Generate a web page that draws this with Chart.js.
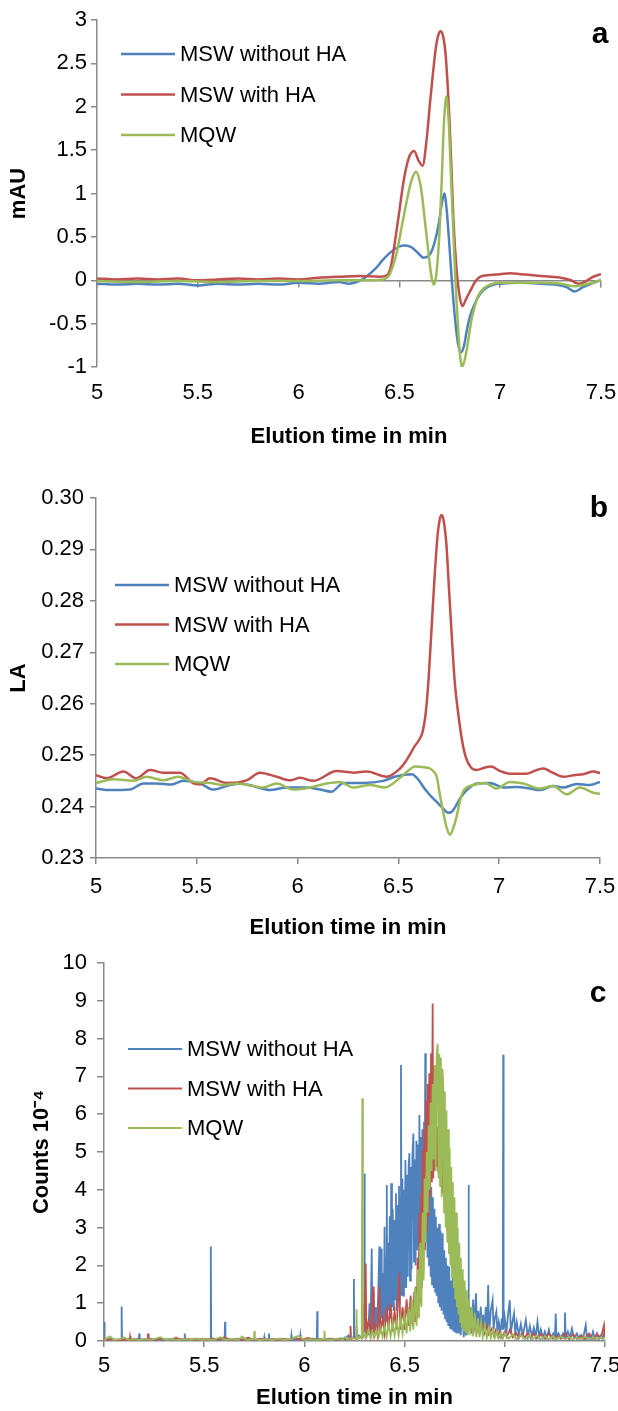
<!DOCTYPE html>
<html><head><meta charset="utf-8">
<script src="https://cdn.jsdelivr.net/npm/chart.js@4.4.0/dist/chart.umd.min.js"></script>
<style>
html,body{margin:0;padding:0;background:#fff;}
#wrap{position:relative;width:618px;height:1411px;overflow:hidden;}
.panel{position:absolute;left:0;width:618px;}
</style></head><body>
<div id="wrap">
<div class="panel" style="top:0;height:460px"><canvas id="ca"></canvas></div>
<div class="panel" style="top:470px;height:480px"><canvas id="cb"></canvas></div>
<div class="panel" style="top:950px;height:461px"><canvas id="cc"></canvas></div>
</div>
<script>
// ---------- data ----------
const seriesNames = ['MSW without HA', 'MSW with HA', 'MQW'];
const xTicks = [5, 5.5, 6, 6.5, 7, 7.5];
const xTickLabels = ['5', '5.5', '6', '6.5', '7', '7.5'];
const xTitle = 'Elution time in min';
const yTitleA = 'mAU';
const yTitleB = 'LA';
const yTitleC = 'Counts 10\u207B\u2074';

// Panel a: [time, mAU]
const aBlue = [[5.00,-0.04],[5.10,-0.05],[5.20,-0.04],[5.30,-0.05],[5.40,-0.04],[5.50,-0.06],[5.60,-0.04],[5.70,-0.05],[5.80,-0.04],[5.90,-0.05],[6.00,-0.03],[6.10,-0.04],[6.20,-0.02],[6.25,-0.04],[6.30,-0.01],[6.34,0.05],[6.38,0.13],[6.42,0.24],[6.46,0.33],[6.50,0.39],[6.53,0.40],[6.56,0.38],[6.59,0.32],[6.62,0.26],[6.645,0.28],[6.67,0.40],[6.695,0.65],[6.71,0.88],[6.723,1.00],[6.735,0.80],[6.745,0.50],[6.76,0.00],[6.775,-0.42],[6.79,-0.72],[6.806,-0.83],[6.82,-0.76],[6.835,-0.57],[6.85,-0.42],[6.87,-0.29],[6.90,-0.16],[6.93,-0.09],[6.97,-0.05],[7.00,-0.04],[7.10,-0.03],[7.20,-0.04],[7.30,-0.06],[7.33,-0.08],[7.37,-0.13],[7.41,-0.08],[7.45,-0.04],[7.50,0.00]];
const aRed = [[5.00,0.02],[5.10,0.01],[5.20,0.02],[5.30,0.01],[5.40,0.02],[5.50,0.00],[5.60,0.01],[5.70,0.02],[5.80,0.01],[5.90,0.02],[6.00,0.01],[6.10,0.03],[6.20,0.04],[6.30,0.05],[6.40,0.04],[6.44,0.06],[6.46,0.18],[6.48,0.48],[6.50,0.80],[6.52,1.13],[6.545,1.40],[6.573,1.49],[6.595,1.38],[6.615,1.32],[6.635,1.62],[6.652,2.05],[6.668,2.42],[6.682,2.70],[6.695,2.84],[6.705,2.87],[6.718,2.80],[6.731,2.55],[6.748,1.86],[6.758,1.30],[6.768,0.70],[6.778,0.30],[6.788,0.01],[6.80,-0.20],[6.812,-0.30],[6.83,-0.22],[6.85,-0.13],[6.875,-0.02],[6.90,0.04],[6.95,0.06],[7.00,0.07],[7.05,0.08],[7.10,0.07],[7.15,0.06],[7.20,0.05],[7.25,0.04],[7.30,0.03],[7.35,0.00],[7.39,-0.04],[7.42,-0.02],[7.46,0.04],[7.50,0.07]];
const aGreen = [[5.00,-0.01],[5.20,-0.02],[5.40,-0.01],[5.60,-0.02],[5.80,-0.01],[6.00,-0.01],[6.20,0.00],[6.35,0.00],[6.42,0.01],[6.45,0.06],[6.47,0.18],[6.487,0.32],[6.51,0.60],[6.537,0.92],[6.56,1.15],[6.583,1.25],[6.60,1.15],[6.61,1.02],[6.622,0.78],[6.635,0.51],[6.65,0.20],[6.662,0.00],[6.672,-0.05],[6.682,0.05],[6.692,0.30],[6.702,0.70],[6.71,1.15],[6.718,1.67],[6.726,2.00],[6.733,2.12],[6.74,2.00],[6.748,1.67],[6.756,1.20],[6.765,0.70],[6.773,0.25],[6.781,-0.14],[6.79,-0.50],[6.797,-0.76],[6.805,-0.95],[6.81,-1.00],[6.82,-0.95],[6.834,-0.80],[6.846,-0.62],[6.858,-0.45],[6.875,-0.29],[6.891,-0.18],[6.92,-0.09],[6.95,-0.05],[7.00,-0.03],[7.20,-0.03],[7.30,-0.04],[7.37,-0.07],[7.42,-0.05],[7.50,0.00]];

// Panel b: [time, LA]
const bBlue = [[5.0,0.2435],[5.069,0.2432],[5.169,0.2433],[5.235,0.2445],[5.30,0.2445],[5.375,0.2443],[5.433,0.2450],[5.516,0.2445],[5.582,0.2433],[5.648,0.2440],[5.714,0.2445],[5.78,0.2440],[5.863,0.2432],[5.946,0.2437],[6.045,0.2437],[6.111,0.2433],[6.169,0.2429],[6.227,0.2446],[6.326,0.2446],[6.425,0.2450],[6.491,0.2459],[6.566,0.2463],[6.60,0.2452],[6.624,0.2438],[6.657,0.2422],[6.69,0.2409],[6.72,0.2397],[6.748,0.2388],[6.765,0.2390],[6.78,0.2398],[6.81,0.2418],[6.839,0.2432],[6.888,0.2445],[6.954,0.2446],[7.02,0.2437],[7.087,0.2438],[7.153,0.2435],[7.202,0.2432],[7.268,0.2440],[7.318,0.2437],[7.384,0.2444],[7.45,0.2442],[7.5,0.2448]];
const bRed = [[5.0,0.2461],[5.053,0.2455],[5.136,0.2468],[5.20,0.2455],[5.268,0.2471],[5.334,0.2466],[5.417,0.2466],[5.483,0.2445],[5.516,0.2443],[5.565,0.2455],[5.648,0.2446],[5.747,0.2451],[5.813,0.2466],[5.896,0.2458],[5.962,0.2451],[6.012,0.2456],[6.078,0.2450],[6.194,0.2469],[6.276,0.2466],[6.343,0.2468],[6.442,0.2458],[6.508,0.2474],[6.535,0.2487],[6.56,0.2503],[6.58,0.2517],[6.60,0.2528],[6.62,0.2545],[6.635,0.2580],[6.65,0.2650],[6.665,0.2750],[6.68,0.2850],[6.695,0.2930],[6.708,0.2963],[6.715,0.2967],[6.725,0.2955],[6.738,0.2910],[6.75,0.2830],[6.765,0.2730],[6.78,0.2640],[6.797,0.2580],[6.815,0.2530],[6.835,0.2495],[6.86,0.2476],[6.888,0.2471],[6.93,0.2476],[6.96,0.2478],[7.0,0.2470],[7.053,0.2464],[7.136,0.2464],[7.186,0.2471],[7.22,0.2474],[7.26,0.2467],[7.318,0.2458],[7.37,0.2461],[7.417,0.2463],[7.467,0.2468],[7.5,0.2465]];
const bGreen = [[5.0,0.2446],[5.086,0.2453],[5.185,0.2450],[5.251,0.2458],[5.334,0.2451],[5.408,0.2458],[5.483,0.2448],[5.566,0.2446],[5.632,0.2442],[5.698,0.2445],[5.78,0.2440],[5.83,0.2437],[5.896,0.2445],[5.978,0.2433],[6.062,0.2437],[6.144,0.2445],[6.21,0.2448],[6.276,0.2437],[6.359,0.2442],[6.433,0.2437],[6.508,0.2456],[6.55,0.2470],[6.582,0.2478],[6.62,0.2477],[6.657,0.2474],[6.675,0.2468],[6.69,0.2458],[6.705,0.2425],[6.723,0.2387],[6.74,0.2358],[6.756,0.2345],[6.772,0.2358],[6.789,0.2381],[6.805,0.2410],[6.822,0.2430],[6.872,0.2442],[6.93,0.2446],[6.987,0.2435],[7.053,0.2448],[7.12,0.2445],[7.202,0.2435],[7.268,0.2440],[7.335,0.2424],[7.4,0.2437],[7.467,0.2427],[7.5,0.2425]];

// Panel c: [time, counts x10^-4]
const cBlue = [[5.000,0.50],[5.003,0.05],[5.02,0.03],[5.04,0.06],[5.06,0.03],[5.086,0.05],[5.088,0.91],[5.090,0.05],[5.11,0.04],[5.13,0.06],[5.15,0.03],[5.174,0.06],[5.176,0.20],[5.178,0.05],[5.20,0.04],[5.23,0.06],[5.26,0.03],[5.29,0.05],[5.32,0.04],[5.357,0.05],[5.359,0.11],[5.361,0.04],[5.38,0.05],[5.401,0.05],[5.403,0.20],[5.405,0.05],[5.43,0.03],[5.46,0.06],[5.49,0.04],[5.51,0.05],[5.531,0.05],[5.533,2.50],[5.535,0.05],[5.56,0.04],[5.58,0.06],[5.602,0.05],[5.604,0.51],[5.606,0.05],[5.63,0.04],[5.66,0.05],[5.69,0.03],[5.72,0.06],[5.75,0.04],[5.78,0.05],[5.798,0.05],[5.800,0.11],[5.802,0.04],[5.821,0.05],[5.823,0.20],[5.825,0.05],[5.85,0.04],[5.88,0.06],[5.91,0.04],[5.933,0.05],[5.935,0.15],[5.937,0.05],[5.96,0.04],[5.978,0.05],[5.980,0.15],[5.982,0.05],[6.01,0.04],[6.04,0.06],[6.062,0.05],[6.064,0.79],[6.066,0.05],[6.09,0.04],[6.12,0.06],[6.15,0.04],[6.18,0.07],[6.20,0.05],[6.22,0.15],[6.225,0.06],[6.245,0.10],[6.247,1.64],[6.249,0.10],[6.27,0.15],[6.285,0.08],[6.29,0.30],[6.298,0.20],[6.300,4.43],[6.302,0.30],[6.31,0.50],[6.318,0.15],[6.325,1.0],[6.33,0.2],[6.336,2.45],[6.339,0.3],[6.345,1.3],[6.35,0.4],[6.356,0.9],[6.362,0.2],[6.368,1.2],[6.374,2.50],[6.377,0.3],[6.383,2.45],[6.386,0.6],[6.392,1.8],[6.396,0.4],[6.40,3.02],[6.404,0.5],[6.408,2.2],[6.411,4.13],[6.414,0.5],[6.418,2.6],[6.422,0.8],[6.426,3.3],[6.43,0.6],[6.433,4.17],[6.437,0.9],[6.441,3.5],[6.445,0.8],[6.449,3.2],[6.453,1.1],[6.457,3.91],[6.46,0.8],[6.464,3.6],[6.468,1.1],[6.472,4.1],[6.476,1.0],[6.479,3.8],[6.482,7.30],[6.485,1.2],[6.489,4.3],[6.493,1.2],[6.497,4.0],[6.50,1.4],[6.504,4.79],[6.508,1.4],[6.512,4.4],[6.516,1.7],[6.52,4.6],[6.524,4.97],[6.527,1.6],[6.531,4.6],[6.535,1.9],[6.539,4.9],[6.544,5.49],[6.547,2.1],[6.551,4.8],[6.555,2.0],[6.559,5.3],[6.563,2.4],[6.567,5.2],[6.571,2.5],[6.574,5.98],[6.577,2.4],[6.581,5.4],[6.585,2.7],[6.589,5.6],[6.593,2.6],[6.597,5.8],[6.60,2.8],[6.603,7.61],[6.606,2.6],[6.61,5.6],[6.614,2.2],[6.618,5.0],[6.622,2.0],[6.626,4.5],[6.63,1.7],[6.633,4.08],[6.637,1.5],[6.641,3.8],[6.645,1.4],[6.649,3.5],[6.653,1.3],[6.656,3.29],[6.66,1.2],[6.664,3.0],[6.668,1.0],[6.672,3.1],[6.676,0.9],[6.68,2.9],[6.684,0.8],[6.69,2.85],[6.694,0.7],[6.698,2.4],[6.702,0.6],[6.706,2.2],[6.71,0.5],[6.714,2.0],[6.718,0.4],[6.723,1.97],[6.727,0.35],[6.731,1.6],[6.735,0.3],[6.74,1.7],[6.744,0.25],[6.748,1.4],[6.752,0.25],[6.756,1.35],[6.76,0.2],[6.765,1.1],[6.77,0.2],[6.775,0.9],[6.78,0.15],[6.785,0.7],[6.79,0.56],[6.795,0.1],[6.80,0.5],[6.806,0.15],[6.812,0.7],[6.817,0.3],[6.819,4.13],[6.821,0.3],[6.83,0.9],[6.836,0.2],[6.842,1.1],[6.848,0.3],[6.856,1.26],[6.862,0.3],[6.868,0.8],[6.874,0.2],[6.88,0.91],[6.886,0.3],[6.892,0.7],[6.898,0.2],[6.905,0.9],[6.912,0.3],[6.917,1.48],[6.922,0.2],[6.93,0.8],[6.939,1.08],[6.944,0.3],[6.95,0.6],[6.958,0.78],[6.963,0.2],[6.97,0.5],[6.978,0.2],[6.985,0.6],[6.990,0.3],[6.992,7.57],[6.994,0.3],[7.00,0.6],[7.008,0.2],[7.016,0.7],[7.025,1.08],[7.03,0.2],[7.038,0.5],[7.046,0.73],[7.052,0.2],[7.06,0.5],[7.07,0.15],[7.08,0.45],[7.09,0.15],[7.105,0.56],[7.115,0.1],[7.125,0.4],[7.135,0.12],[7.145,0.35],[7.155,0.1],[7.163,0.51],[7.172,0.1],[7.18,0.3],[7.19,0.08],[7.2,0.25],[7.21,0.08],[7.22,0.3],[7.23,0.08],[7.242,0.2],[7.25,0.08],[7.254,0.73],[7.258,0.1],[7.268,0.2],[7.28,0.08],[7.29,0.2],[7.296,0.1],[7.30,0.75],[7.304,0.1],[7.315,0.25],[7.325,0.08],[7.335,0.33],[7.345,0.08],[7.36,0.2],[7.37,0.06],[7.38,0.15],[7.39,0.06],[7.404,0.42],[7.41,0.06],[7.42,0.15],[7.43,0.05],[7.44,0.25],[7.45,0.05],[7.46,0.2],[7.47,0.05],[7.48,0.15],[7.49,0.06],[7.50,0.30]];
const cRed = [[5.00,0.10],[5.005,0.03],[5.03,0.05],[5.06,0.02],[5.09,0.04],[5.11,0.03],[5.128,0.03],[5.13,0.12],[5.133,0.03],[5.16,0.05],[5.19,0.03],[5.218,0.04],[5.22,0.20],[5.223,0.04],[5.25,0.03],[5.28,0.06],[5.31,0.03],[5.34,0.05],[5.36,0.08],[5.39,0.03],[5.42,0.05],[5.45,0.03],[5.48,0.05],[5.51,0.03],[5.54,0.07],[5.57,0.03],[5.60,0.10],[5.63,0.03],[5.66,0.05],[5.69,0.04],[5.72,0.09],[5.75,0.03],[5.78,0.06],[5.81,0.03],[5.84,0.05],[5.87,0.03],[5.90,0.05],[5.93,0.03],[5.95,0.09],[5.98,0.03],[6.02,0.08],[6.05,0.03],[6.08,0.05],[6.11,0.03],[6.14,0.06],[6.17,0.03],[6.20,0.05],[6.228,0.05],[6.23,0.40],[6.233,0.05],[6.25,0.08],[6.258,0.05],[6.26,0.38],[6.263,0.05],[6.28,0.10],[6.295,0.10],[6.298,1.0],[6.30,0.3],[6.306,2.05],[6.309,0.2],[6.32,0.5],[6.33,0.15],[6.343,1.44],[6.346,0.2],[6.355,0.4],[6.365,0.15],[6.375,1.44],[6.378,0.2],[6.39,0.6],[6.40,0.2],[6.41,0.9],[6.42,0.3],[6.43,1.0],[6.44,0.25],[6.45,0.8],[6.46,0.3],[6.474,1.79],[6.478,0.3],[6.49,0.9],[6.50,0.3],[6.51,1.1],[6.52,0.4],[6.53,1.2],[6.54,0.4],[6.548,1.3],[6.552,0.5],[6.557,1.44],[6.561,0.6],[6.565,2.2],[6.569,0.8],[6.574,3.38],[6.578,1.0],[6.582,3.9],[6.586,1.4],[6.59,5.05],[6.594,1.8],[6.598,5.6],[6.602,2.4],[6.607,6.37],[6.611,2.9],[6.615,6.8],[6.619,3.3],[6.623,7.08],[6.627,3.8],[6.632,7.61],[6.636,4.2],[6.640,8.93],[6.643,4.3],[6.647,7.26],[6.651,4.5],[6.655,6.2],[6.659,4.6],[6.663,5.67],[6.667,4.5],[6.671,5.4],[6.675,4.3],[6.679,5.32],[6.683,4.1],[6.687,5.0],[6.69,3.9],[6.694,4.79],[6.698,3.6],[6.702,4.4],[6.706,3.3],[6.71,3.8],[6.714,2.9],[6.718,3.55],[6.722,2.5],[6.726,3.1],[6.73,2.2],[6.734,2.67],[6.738,1.9],[6.742,2.4],[6.746,1.6],[6.75,2.14],[6.755,1.4],[6.76,1.9],[6.765,1.2],[6.77,1.7],[6.775,1.0],[6.781,1.35],[6.786,0.8],[6.791,1.52],[6.796,0.7],[6.801,1.0],[6.806,0.5],[6.812,0.82],[6.818,0.4],[6.825,0.7],[6.832,0.35],[6.839,0.56],[6.846,0.3],[6.853,0.5],[6.86,0.25],[6.868,0.45],[6.876,0.22],[6.889,0.42],[6.898,0.2],[6.91,0.38],[6.92,0.18],[6.935,0.33],[6.945,0.15],[6.955,0.29],[6.965,0.12],[6.975,0.25],[6.985,0.1],[7.0,0.25],[7.01,0.1],[7.025,0.3],[7.04,0.1],[7.055,0.22],[7.07,0.08],[7.085,0.2],[7.1,0.08],[7.115,0.22],[7.13,0.07],[7.145,0.2],[7.16,0.07],[7.18,0.18],[7.2,0.06],[7.22,0.2],[7.24,0.06],[7.26,0.15],[7.28,0.06],[7.30,0.2],[7.32,0.05],[7.34,0.18],[7.36,0.06],[7.38,0.15],[7.40,0.05],[7.42,0.2],[7.44,0.06],[7.46,0.18],[7.48,0.08],[7.495,0.42],[7.50,0.1]];
const cGreen = [[5.00,0.03],[5.03,0.12],[5.05,0.03],[5.08,0.05],[5.10,0.10],[5.12,0.03],[5.15,0.05],[5.18,0.03],[5.21,0.05],[5.24,0.03],[5.28,0.10],[5.31,0.03],[5.34,0.05],[5.37,0.03],[5.40,0.05],[5.43,0.03],[5.46,0.06],[5.49,0.03],[5.52,0.05],[5.55,0.03],[5.58,0.10],[5.61,0.03],[5.64,0.05],[5.67,0.03],[5.69,0.12],[5.71,0.03],[5.73,0.05],[5.748,0.05],[5.75,0.26],[5.753,0.05],[5.78,0.03],[5.81,0.05],[5.84,0.03],[5.87,0.06],[5.90,0.03],[5.93,0.05],[5.97,0.13],[6.00,0.03],[6.03,0.05],[6.06,0.03],[6.098,0.05],[6.10,0.27],[6.103,0.05],[6.13,0.03],[6.16,0.06],[6.19,0.03],[6.20,0.10],[6.22,0.04],[6.24,0.08],[6.258,0.05],[6.26,0.84],[6.263,0.05],[6.275,0.10],[6.286,0.10],[6.289,6.42],[6.292,0.10],[6.30,0.2],[6.31,0.1],[6.32,0.3],[6.33,0.08],[6.34,0.25],[6.35,0.1],[6.36,0.3],[6.37,0.1],[6.38,0.35],[6.39,0.1],[6.40,0.4],[6.41,0.1],[6.42,0.45],[6.43,0.12],[6.44,0.5],[6.45,0.15],[6.46,0.55],[6.47,0.15],[6.48,0.6],[6.49,0.2],[6.50,0.7],[6.51,0.2],[6.52,0.9],[6.528,0.25],[6.536,1.1],[6.544,0.3],[6.552,1.4],[6.56,0.4],[6.566,1.9],[6.572,0.6],[6.578,2.6],[6.584,0.9],[6.59,3.4],[6.595,1.6],[6.60,4.3],[6.605,2.6],[6.61,5.0],[6.615,3.4],[6.62,5.7],[6.625,4.0],[6.63,6.3],[6.635,4.5],[6.64,6.8],[6.645,4.8],[6.65,7.3],[6.655,4.5],[6.66,7.6],[6.665,7.87],[6.669,4.3],[6.673,7.6],[6.677,4.1],[6.681,7.5],[6.685,3.8],[6.689,7.2],[6.693,6.82],[6.697,3.4],[6.701,6.6],[6.705,3.0],[6.709,6.1],[6.713,2.6],[6.717,5.6],[6.721,2.3],[6.725,5.1],[6.729,2.0],[6.733,4.6],[6.737,1.7],[6.741,4.2],[6.745,1.4],[6.749,3.8],[6.753,1.1],[6.757,3.4],[6.761,0.9],[6.765,3.0],[6.769,0.7],[6.773,2.6],[6.777,0.5],[6.781,2.2],[6.785,0.35],[6.79,1.9],[6.795,0.25],[6.8,1.6],[6.805,0.2],[6.81,1.35],[6.816,0.15],[6.822,1.1],[6.828,0.15],[6.835,0.9],[6.842,0.12],[6.85,0.75],[6.858,0.1],[6.866,0.6],[6.874,0.1],[6.882,0.5],[6.89,0.1],[6.9,0.42],[6.91,0.08],[6.92,0.35],[6.93,0.08],[6.94,0.3],[6.95,0.08],[6.96,0.25],[6.97,0.07],[6.98,0.22],[6.99,0.06],[7.0,0.2],[7.02,0.06],[7.04,0.18],[7.06,0.05],[7.08,0.16],[7.1,0.05],[7.12,0.15],[7.14,0.05],[7.16,0.14],[7.18,0.05],[7.2,0.13],[7.22,0.05],[7.24,0.12],[7.26,0.04],[7.28,0.12],[7.3,0.04],[7.32,0.11],[7.34,0.04],[7.36,0.1],[7.38,0.04],[7.4,0.12],[7.42,0.04],[7.44,0.1],[7.46,0.04],[7.48,0.1],[7.5,0.06]];

// ---------- styling ----------
const COLORS = ['#4F81BD', '#C0504D', '#9BBB59'];
const AXIS = '#898989';
const FAM = '"Liberation Sans", Arial, sans-serif';
Chart.defaults.font.family = FAM;
Chart.defaults.font.size = 22;
Chart.defaults.color = '#000';

const overlay = {
  id: 'overlay',
  afterDraw(chart, args, o) {
    const ctx = chart.ctx;
    ctx.save();
    ctx.font = '22px ' + FAM;
    ctx.textBaseline = 'middle';
    ctx.textAlign = 'left';
    chart.data.datasets.forEach((ds, i) => {
      const y = o.y + i * o.dy;
      ctx.strokeStyle = ds.borderColor;
      ctx.lineWidth = o.lw;
      ctx.beginPath(); ctx.moveTo(o.x, y); ctx.lineTo(o.x + o.len, y); ctx.stroke();
      ctx.fillStyle = '#000';
      ctx.fillText(ds.label, o.x + o.len + o.gap, y + 1);
    });
    ctx.font = 'bold 30px ' + FAM;
    ctx.textAlign = 'center';
    ctx.textBaseline = 'alphabetic';
    ctx.fillText(o.letter, o.lx, o.ly);
    ctx.restore();
  }
};

function toXY(arr) { return arr.map(p => ({x: p[0], y: p[1]})); }

function makeDatasets(series, lw, smooth) {
  return series.map((s, i) => ({
    label: seriesNames[i],
    data: toXY(s),
    borderColor: COLORS[i],
    backgroundColor: COLORS[i],
    borderWidth: lw,
    pointRadius: 0,
    fill: false,
    xAxisID: 'x',
    yAxisID: 'y',
    order: 3 - i,
    cubicInterpolationMode: smooth ? 'monotone' : 'default',
    tension: 0
  }));
}

function xLabel(v) {
  const i = xTicks.indexOf(v);
  return i >= 0 ? xTickLabels[i] : String(v);
}

function xScale(cfg) {
  return {
    type: 'linear', position: 'bottom', min: 5, max: 7.5,
    afterBuildTicks: s => { s.ticks = xTicks.map(v => ({value: v})); },
    ticks: { padding: cfg.tickPad, maxRotation: 0, autoSkip: false, color: '#000', font: {size: 22}, callback: v => xLabel(v) },
    grid: { display: cfg.axisLine, drawOnChartArea: false, drawTicks: cfg.axisLine, tickLength: 6, color: AXIS, lineWidth: 1.5 },
    border: { display: cfg.axisLine, color: AXIS, width: 1.5 },
    title: { display: true, text: xTitle, color: '#000', font: {size: 22, weight: 'bold'}, padding: {top: 0, bottom: cfg.titlePad} },
    afterFit: s => { s.height = cfg.height; s.paddingLeft = 0; s.paddingRight = 0; }
  };
}

function yScale(cfg) {
  return {
    type: 'linear', position: 'left', min: cfg.min, max: cfg.max,
    ticks: { stepSize: cfg.step, padding: cfg.tickPad, color: '#000', font: {size: 22}, callback: cfg.fmt },
    grid: { drawOnChartArea: false, drawTicks: true, tickLength: cfg.tl, color: AXIS, lineWidth: 1.5 },
    border: { color: AXIS, width: 1.5 },
    title: { display: true, text: cfg.title, color: '#000', font: {size: 22, weight: 'bold'}, padding: {top: cfg.titlePad, bottom: 0} },
    afterFit: s => { s.width = cfg.width; s.paddingTop = 0; s.paddingBottom = 0; }
  };
}

const common = {
  type: 'line',
  plugins: [overlay],
};

// Panel a
new Chart(document.getElementById('ca'), {
  ...common,
  data: { datasets: makeDatasets([aBlue, aRed, aGreen], 2.5, true) },
  options: {
    responsive: true, maintainAspectRatio: false, animation: false,
    layout: { padding: {top: 20, right: 17, bottom: 0, left: 0} },
    plugins: { legend: {display: false}, tooltip: {enabled: false},
      overlay: {x: 121, y: 54, dy: 40.5, len: 54, gap: 5, lw: 2.5, letter: 'a', lx: 600, ly: 43} },
    scales: {
      x: xScale({tickPad: 13, axisLine: false, titlePad: 10, height: 93}),
      x2: { type: 'linear', position: {y: 0}, min: 5, max: 7.5,
        afterBuildTicks: s => { s.ticks = xTicks.map(v => ({value: v})); },
        ticks: {display: false},
        grid: {drawOnChartArea: false, drawTicks: true, tickLength: 6, color: AXIS, lineWidth: 1.5},
        border: {color: AXIS, width: 1.5} },
      y: yScale({min: -1, max: 3, step: 0.5, tickPad: 4, tl: 6, title: yTitleA, titlePad: 6, width: 97})
    }
  }
});

// Panel b
new Chart(document.getElementById('cb'), {
  ...common,
  data: { datasets: makeDatasets([bBlue, bRed, bGreen], 2.5, true) },
  options: {
    responsive: true, maintainAspectRatio: false, animation: false,
    layout: { padding: {top: 28, right: 18, bottom: 0, left: 0} },
    plugins: { legend: {display: false}, tooltip: {enabled: false},
      overlay: {x: 115, y: 115, dy: 39.5, len: 54, gap: 5, lw: 2.5, letter: 'b', lx: 599, ly: 47} },
    scales: {
      x: xScale({tickPad: 10, axisLine: true, titlePad: 9, height: 92}),
      y: yScale({min: 0.23, max: 0.30, step: 0.01, tickPad: 6, tl: 6, title: yTitleB, titlePad: 6, width: 96,
                 fmt: v => Number(v).toFixed(2)})
    }
  }
});

// Panel c
new Chart(document.getElementById('cc'), {
  ...common,
  data: { datasets: makeDatasets([cBlue, cRed, cGreen], 1.8, false) },
  options: {
    responsive: true, maintainAspectRatio: false, animation: false,
    layout: { padding: {top: 13, right: 13, bottom: 0, left: 0} },
    plugins: { legend: {display: false}, tooltip: {enabled: false},
      overlay: {x: 128, y: 99, dy: 39.5, len: 54, gap: 5, lw: 2, letter: 'c', lx: 598, ly: 52} },
    scales: {
      x: xScale({tickPad: 6, axisLine: true, titlePad: 0, height: 70}),
      y: yScale({min: 0, max: 10, step: 1, tickPad: 10, tl: 7, title: yTitleC, titlePad: 29, width: 104})
    }
  }
});
</script>
</body></html>
